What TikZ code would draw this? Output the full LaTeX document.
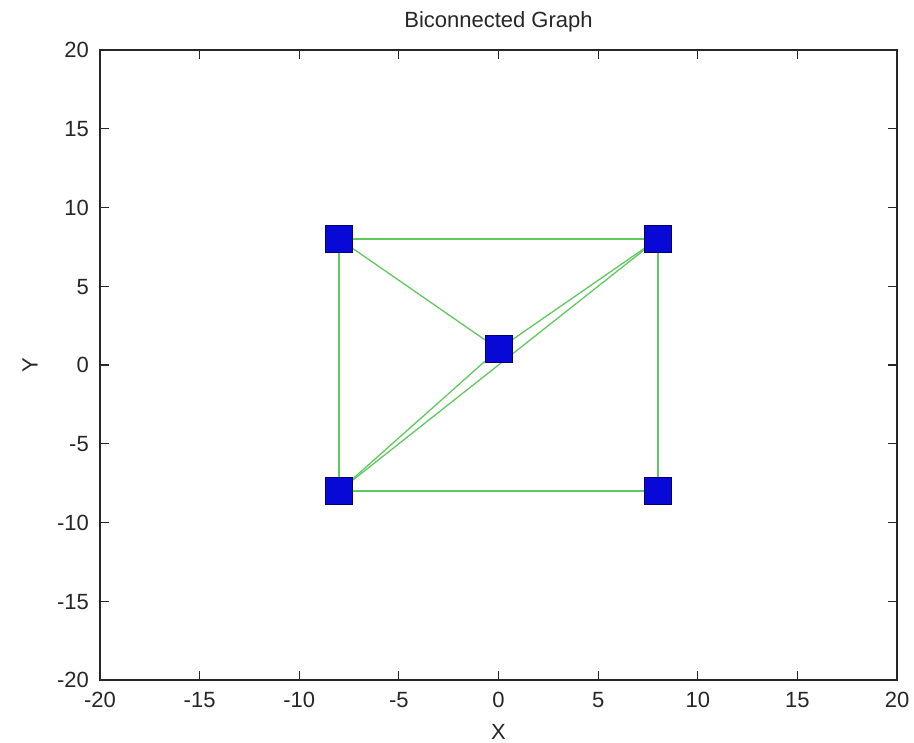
\documentclass[tikz,border=0pt]{standalone}
\usepackage{fontspec}
\setmainfont{Liberation Sans}
\usetikzlibrary{backgrounds,calc}
\definecolor{edgegreen}{RGB}{95,200,95}
\definecolor{markblue}{RGB}{8,8,215}
\definecolor{markedge}{RGB}{0,0,110}
\begin{document}
\begin{tikzpicture}[x=1pt,y=1pt,
  lbl/.style={font=\fontsize{22}{26}\selectfont, inner sep=0pt, text=black!85},
  vtx/.style={rectangle, draw=markedge, line width=0.8pt, fill=markblue, minimum width=27pt, minimum height=27pt, inner sep=0pt},
  edge/.style={draw=edgegreen, line width=1.3pt},
  axis/.style={draw=black!85, line width=1.4pt},
  tick/.style={draw=black!85, line width=1.1pt}]
\useasboundingbox (0,0) rectangle (914,743);
% title and axis labels
\node[lbl, anchor=base] (title) at (498.5,715) {Biconnected Graph};
\node[lbl, anchor=base] (xlab) at (498.5,3) {X};
\node[lbl, rotate=90, anchor=center] (ylab) at (30,378) {Y};
\begin{scope}[shift={(498.5pt,378pt)}, x=19.925pt, y=15.75pt]
  % axes box
  \draw[axis] (-20,-20) rectangle (20,20);
  \foreach \v in {-20,-15,...,20} {
    \draw[tick] (\v,-20) -- ++(0pt,9pt);
    \draw[tick] (\v,20) -- ++(0pt,-9pt);
    \draw[tick] (-20,\v) -- ++(9pt,0pt);
    \draw[tick] (20,\v) -- ++(-9pt,0pt);
    \node[lbl, anchor=base] at ($(\v,-20)+(0pt,-28pt)$) {\v};
    \node[lbl, anchor=base east] at ($(-20,\v)+(-11pt,-8pt)$) {\v};
  }
  % graph vertices
  \node[vtx] (tl) at (-8,8) {};
  \node[vtx] (tr) at (8,8) {};
  \node[vtx] (bl) at (-8,-8) {};
  \node[vtx] (br) at (8,-8) {};
  \node[vtx] (c) at (0,1) {};
  \begin{scope}[on background layer]
    \draw[edge] (tl.center) -- (tr.center);
    \draw[edge] (tl.center) -- (bl.center);
    \draw[edge] (tr.center) -- (br.center);
    \draw[edge] (bl.center) -- (br.center);
    \draw[edge] (tl.center) -- (c.center);
    \draw[edge] (c.center) -- (tr.center);
    \draw[edge] (c.center) -- (bl.center);
    \draw[edge] (bl.center) -- (tr.center);
  \end{scope}
\end{scope}
\end{tikzpicture}
\end{document}
